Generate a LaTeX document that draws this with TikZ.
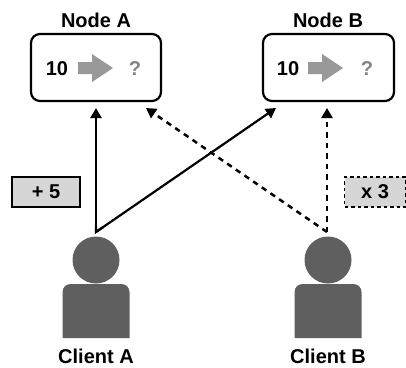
\documentclass[tikz,border=0pt]{standalone}
\usepackage{fontspec}
\setmainfont{Liberation Sans}
\usetikzlibrary{arrows.meta,calc}
\definecolor{personc}{HTML}{5F5F5F}
\definecolor{arrowc}{HTML}{999999}
\definecolor{opc}{HTML}{D6D6D6}
\tikzset{
  x=1pt,y=-1pt,
  title/.style={font=\fontsize{20}{22}\selectfont\bfseries,inner sep=0pt,anchor=center},
  numtext/.style={font=\fontsize{20}{22}\selectfont\bfseries,inner sep=0pt,anchor=center},
  qtext/.style={numtext,text=arrowc!85!black},
  serverbox/.style={draw=black,line width=2.2pt,rounded corners=9pt,fill=white,minimum width=130pt,minimum height=67pt,inner sep=0pt},
  opbox/.style={draw=black,line width=1.3pt,fill=opc,minimum height=30pt,inner sep=0pt},
  opdash/.style={opbox,dash pattern=on 3.5pt off 3pt},
  headshape/.style={circle,fill=personc,minimum size=47pt,inner sep=0pt},
  conn/.style={line width=2.2pt,-{Triangle[length=10pt,width=11pt]}},
  conndash/.style={conn,line width=2.5pt,dash pattern=on 5.5pt off 5pt},
  fat/.style={fill=arrowc,draw=none},
}
\newcommand{\fatarrow}[1]{\fill[fat] ($(#1)+(-18,-6)$) -- ++(14,0) -- ++(0,-8) -- ++(21,14) -- ++(-21,14) -- ++(0,-8) -- ++(-14,0) -- cycle;}
\newcommand{\person}[2]{%
  \node[headshape] (head#1) at (#2,260) {};
  \fill[personc] (#2-33.5,338) [rounded corners=8pt] -- (#2-33.5,284) -- (#2+33.5,284) [sharp corners] -- (#2+33.5,338) -- cycle;
}
\begin{document}
\begin{tikzpicture}
\useasboundingbox (0,0) rectangle (406,367);
\node[title] (labelA) at (96,20) {Node A};
\node[title] (labelB) at (328,20) {Node B};
\node[serverbox] (boxA) at (96,67.5) {};
\node[serverbox,minimum width=131pt] (boxB) at (328.5,67.5) {};
\node[numtext] (tenA) at (57,69) {10};
\coordinate (fa) at (96,68); \fatarrow{fa}
\node[qtext] (qA) at (135,69) {?};
\node[numtext] (tenB) at (288,69) {10};
\coordinate (fb) at (326,68); \fatarrow{fb}
\node[qtext] (qB) at (367,69) {?};
\node[opbox,minimum width=68pt] (opA) at (46,192) {\fontsize{20}{22}\selectfont\bfseries + 5};
\node[opdash,minimum width=61pt] (opB) at (375,192) {\fontsize{20}{22}\selectfont\bfseries x 3};
\person{A}{96}
\person{B}{328}
\node[title] (clientA) at (96,356) {Client A};
\node[title] (clientB) at (328,356) {Client B};
\coordinate (startA) at (96,232);
\coordinate (startB) at (327,232);
\coordinate (endAA) at (96,108);
\coordinate (endAB) at (276,108);
\coordinate (endBA) at (146,108);
\coordinate (endBB) at (327,108);
\draw[conn] (startA) -- (endAA);
\draw[conn] (startA) -- (endAB);
\draw[conndash] (startB) -- (endBA);
\draw[conndash] (startB) -- (endBB);
\draw[line width=2.2pt,line join=miter] ($(startA)!0.05!(endAA)$) -- (startA) -- ($(startA)!0.04!(endAB)$);
\end{tikzpicture}
\end{document}
